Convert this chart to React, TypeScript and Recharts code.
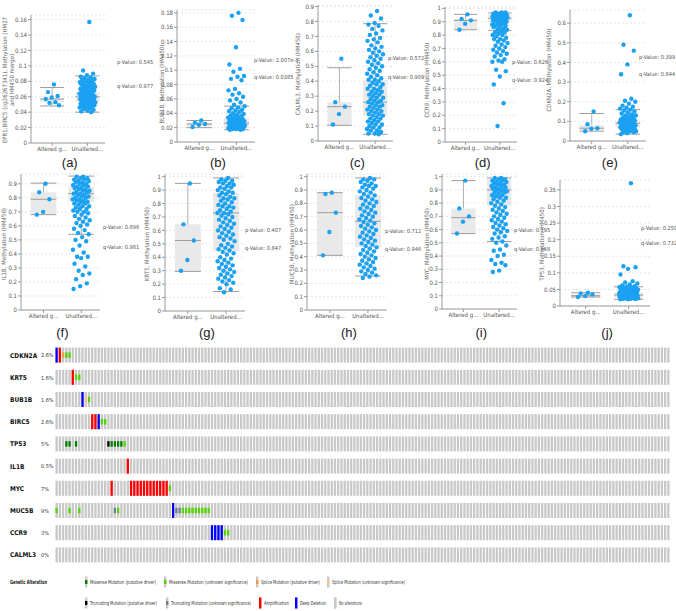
import React from "react";
import {
  ScatterChart,
  Scatter,
  XAxis,
  YAxis,
  CartesianGrid,
  ReferenceArea,
  ReferenceLine,
} from "recharts";

const FONT = '"Liberation Sans Narrow", "DejaVu Sans Condensed", "Liberation Sans", Arial, sans-serif';
const BLUE = "#1ba1f2";
const groupLabels = ["Altered g...", "Unaltered..."];

// box stats are [min, q1, median, q3, max]

// (a) EPR1;BIRC5
const aAltered = [0.076, 0.066, 0.061, 0.059, 0.057, 0.053, 0.052, 0.049];
const aUnaltered = [0.157, 0.094, 0.09, 0.088, 0.086, 0.085, 0.084, 0.083, 0.082, 0.082, 0.081, 0.08, 0.079, 0.079, 0.078, 0.077, 0.076, 0.076, 0.075, 0.074, 0.073, 0.073, 0.072, 0.071, 0.07, 0.07, 0.069, 0.068, 0.068, 0.067, 0.066, 0.066, 0.065, 0.064, 0.064, 0.063, 0.062, 0.062, 0.061, 0.061, 0.06, 0.06, 0.059, 0.059, 0.058, 0.058, 0.057, 0.057, 0.056, 0.056, 0.055, 0.055, 0.054, 0.054, 0.053, 0.053, 0.052, 0.052, 0.051, 0.051, 0.05, 0.05, 0.049, 0.048, 0.048, 0.047, 0.046, 0.046, 0.045, 0.044, 0.043, 0.042, 0.041, 0.04];
const aBoxAltered = [0.048, 0.053, 0.057, 0.058, 0.072];
const aBoxUnaltered = [0.04, 0.054, 0.06, 0.066, 0.087];
const aTicks = [0, 0.02, 0.04, 0.06, 0.08, 0.1, 0.12, 0.14, 0.16];

// (b) BUB1B
const bAltered = [0.03, 0.027, 0.025, 0.024, 0.021];
const bUnaltered = [0.18, 0.176, 0.17, 0.132, 0.108, 0.102, 0.098, 0.092, 0.091, 0.088, 0.086, 0.074, 0.072, 0.068, 0.066, 0.063, 0.06, 0.058, 0.055, 0.052, 0.05, 0.048, 0.047, 0.045, 0.044, 0.043, 0.042, 0.04, 0.039, 0.038, 0.037, 0.036, 0.035, 0.034, 0.034, 0.033, 0.032, 0.032, 0.031, 0.03, 0.03, 0.029, 0.029, 0.028, 0.028, 0.027, 0.027, 0.026, 0.026, 0.025, 0.025, 0.025, 0.024, 0.024, 0.023, 0.023, 0.023, 0.022, 0.022, 0.022, 0.021, 0.021, 0.021, 0.02, 0.02, 0.02, 0.019, 0.019, 0.019, 0.018, 0.018, 0.018, 0.017, 0.017];
const bBoxAltered = [0.02, 0.022, 0.025, 0.027, 0.03];
const bBoxUnaltered = [0.017, 0.02, 0.026, 0.033, 0.05];
const bTicks = [0, 0.02, 0.04, 0.06, 0.08, 0.1, 0.12, 0.14, 0.16, 0.18];

// (c) CALML3
const cAltered = [0.55, 0.26, 0.23, 0.18, 0.11];
const cUnaltered = [0.87, 0.84, 0.82, 0.79, 0.78, 0.77, 0.75, 0.74, 0.72, 0.71, 0.69, 0.68, 0.67, 0.66, 0.64, 0.63, 0.62, 0.61, 0.6, 0.59, 0.58, 0.57, 0.56, 0.55, 0.54, 0.53, 0.52, 0.51, 0.5, 0.49, 0.48, 0.47, 0.46, 0.45, 0.44, 0.43, 0.42, 0.41, 0.41, 0.4, 0.39, 0.38, 0.38, 0.37, 0.36, 0.35, 0.35, 0.34, 0.33, 0.33, 0.32, 0.31, 0.31, 0.3, 0.29, 0.29, 0.28, 0.27, 0.27, 0.26, 0.26, 0.25, 0.24, 0.24, 0.23, 0.23, 0.22, 0.21, 0.21, 0.2, 0.2, 0.19, 0.18, 0.18, 0.17, 0.17, 0.16, 0.15, 0.15, 0.14, 0.13, 0.13, 0.12, 0.11, 0.11, 0.1, 0.09, 0.09, 0.08, 0.07, 0.07, 0.06, 0.05, 0.05, 0.045];
const cBoxAltered = [0.105, 0.105, 0.23, 0.26, 0.49];
const cBoxUnaltered = [0.045, 0.17, 0.26, 0.41, 0.785];
const cTicks = [0, 0.1, 0.2, 0.3, 0.4, 0.5, 0.6, 0.7, 0.8, 0.9];

// (d) CCR9
const dAltered = [0.955, 0.92, 0.91, 0.885, 0.84];
const dUnaltered = [0.97, 0.97, 0.97, 0.96, 0.96, 0.96, 0.96, 0.95, 0.95, 0.95, 0.95, 0.95, 0.94, 0.94, 0.94, 0.94, 0.94, 0.93, 0.93, 0.93, 0.93, 0.92, 0.92, 0.92, 0.92, 0.91, 0.91, 0.91, 0.9, 0.9, 0.9, 0.89, 0.89, 0.88, 0.88, 0.87, 0.87, 0.86, 0.86, 0.85, 0.84, 0.84, 0.83, 0.82, 0.82, 0.81, 0.8, 0.8, 0.79, 0.78, 0.77, 0.77, 0.76, 0.75, 0.74, 0.73, 0.72, 0.71, 0.7, 0.69, 0.68, 0.67, 0.66, 0.65, 0.64, 0.62, 0.61, 0.6, 0.6, 0.54, 0.53, 0.49, 0.43, 0.29, 0.12];
const dBoxAltered = [0.84, 0.84, 0.91, 0.92, 0.955];
const dBoxUnaltered = [0.835, 0.895, 0.925, 0.955, 0.965];
const dTicks = [0, 0.1, 0.2, 0.3, 0.4, 0.5, 0.6, 0.7, 0.8, 0.9, 1];

// (e) CDKN2A
const eAltered = [0.15, 0.085, 0.065, 0.062, 0.05];
const eUnaltered = [0.64, 0.49, 0.46, 0.39, 0.34, 0.215, 0.205, 0.2, 0.19, 0.18, 0.175, 0.17, 0.165, 0.16, 0.155, 0.15, 0.145, 0.14, 0.135, 0.13, 0.13, 0.125, 0.12, 0.12, 0.115, 0.11, 0.11, 0.105, 0.105, 0.1, 0.1, 0.1, 0.095, 0.095, 0.09, 0.09, 0.09, 0.085, 0.085, 0.085, 0.08, 0.08, 0.08, 0.075, 0.075, 0.07, 0.07, 0.07, 0.065, 0.065, 0.06, 0.06, 0.055, 0.055, 0.05, 0.05, 0.045, 0.045, 0.04, 0.035];
const eBoxAltered = [0.05, 0.055, 0.065, 0.08, 0.14];
const eBoxUnaltered = [0.035, 0.07, 0.09, 0.105, 0.16];
const eTicks = [0, 0.1, 0.2, 0.3, 0.4, 0.5, 0.6];

// (f) IL1B
const fAltered = [0.9, 0.84, 0.79, 0.7, 0.68];
const fUnaltered = [0.95, 0.95, 0.94, 0.94, 0.93, 0.93, 0.92, 0.92, 0.91, 0.91, 0.9, 0.9, 0.89, 0.89, 0.88, 0.88, 0.87, 0.87, 0.86, 0.86, 0.85, 0.85, 0.84, 0.84, 0.83, 0.83, 0.82, 0.82, 0.81, 0.81, 0.8, 0.8, 0.79, 0.79, 0.78, 0.78, 0.77, 0.77, 0.76, 0.76, 0.75, 0.74, 0.74, 0.73, 0.72, 0.72, 0.71, 0.7, 0.7, 0.69, 0.68, 0.67, 0.66, 0.65, 0.64, 0.63, 0.62, 0.61, 0.6, 0.58, 0.57, 0.55, 0.54, 0.52, 0.5, 0.49, 0.46, 0.43, 0.41, 0.38, 0.38, 0.37, 0.33, 0.31, 0.28, 0.26, 0.25, 0.22, 0.19, 0.17, 0.15];
const fBoxAltered = [0.68, 0.68, 0.79, 0.84, 0.905];
const fBoxUnaltered = [0.54, 0.77, 0.83, 0.88, 0.955];
const fTicks = [0, 0.1, 0.2, 0.3, 0.4, 0.5, 0.6, 0.7, 0.8, 0.9];

// (g) KRT5
const gAltered = [0.95, 0.645, 0.525, 0.38, 0.3];
const gUnaltered = [0.99, 0.98, 0.97, 0.97, 0.96, 0.95, 0.95, 0.94, 0.93, 0.92, 0.92, 0.91, 0.9, 0.89, 0.88, 0.88, 0.87, 0.86, 0.85, 0.84, 0.84, 0.83, 0.82, 0.81, 0.8, 0.79, 0.78, 0.78, 0.77, 0.76, 0.75, 0.74, 0.73, 0.73, 0.72, 0.71, 0.7, 0.69, 0.68, 0.67, 0.66, 0.65, 0.64, 0.63, 0.62, 0.61, 0.6, 0.59, 0.58, 0.57, 0.56, 0.55, 0.54, 0.53, 0.52, 0.5, 0.49, 0.48, 0.47, 0.46, 0.45, 0.44, 0.43, 0.42, 0.4, 0.39, 0.38, 0.37, 0.36, 0.35, 0.34, 0.33, 0.32, 0.31, 0.3, 0.29, 0.28, 0.27, 0.26, 0.25, 0.24, 0.23, 0.22, 0.21, 0.2, 0.17, 0.16, 0.14];
const gBoxAltered = [0.295, 0.295, 0.525, 0.645, 0.95];
const gBoxUnaltered = [0.145, 0.445, 0.73, 0.88, 0.99];
const gTicks = [0, 0.1, 0.2, 0.3, 0.4, 0.5, 0.6, 0.7, 0.8, 0.9, 1];

// (h) MUC5B
const hAltered = [0.88, 0.87, 0.73, 0.585, 0.41];
const hUnaltered = [0.99, 0.98, 0.98, 0.97, 0.96, 0.95, 0.94, 0.93, 0.93, 0.92, 0.91, 0.9, 0.89, 0.88, 0.87, 0.86, 0.85, 0.84, 0.83, 0.82, 0.81, 0.8, 0.79, 0.78, 0.77, 0.76, 0.75, 0.74, 0.73, 0.72, 0.71, 0.7, 0.69, 0.68, 0.67, 0.66, 0.65, 0.64, 0.63, 0.62, 0.61, 0.6, 0.59, 0.58, 0.57, 0.56, 0.55, 0.54, 0.53, 0.52, 0.51, 0.5, 0.49, 0.48, 0.47, 0.46, 0.45, 0.44, 0.43, 0.42, 0.41, 0.4, 0.39, 0.38, 0.37, 0.36, 0.35, 0.34, 0.33, 0.32, 0.31, 0.3, 0.29, 0.28, 0.27, 0.26, 0.25, 0.24];
const hBoxAltered = [0.41, 0.41, 0.73, 0.88, 0.88];
const hBoxUnaltered = [0.255, 0.47, 0.665, 0.86, 0.99];
const hTicks = [0, 0.1, 0.2, 0.3, 0.4, 0.5, 0.6, 0.7, 0.8, 0.9, 1];

// (i) MYC
const iAltered = [0.97, 0.76, 0.7, 0.66, 0.57];
const iUnaltered = [0.99, 0.99, 0.98, 0.98, 0.97, 0.97, 0.96, 0.96, 0.95, 0.95, 0.94, 0.94, 0.93, 0.93, 0.92, 0.92, 0.91, 0.91, 0.9, 0.9, 0.89, 0.89, 0.88, 0.88, 0.87, 0.86, 0.86, 0.85, 0.84, 0.84, 0.83, 0.82, 0.81, 0.8, 0.79, 0.78, 0.77, 0.76, 0.75, 0.74, 0.73, 0.72, 0.71, 0.7, 0.69, 0.68, 0.67, 0.66, 0.65, 0.64, 0.63, 0.62, 0.61, 0.6, 0.59, 0.58, 0.57, 0.55, 0.54, 0.53, 0.51, 0.5, 0.48, 0.45, 0.44, 0.41, 0.4, 0.37, 0.35, 0.34, 0.33, 0.29, 0.28];
const iBoxAltered = [0.57, 0.57, 0.69, 0.76, 0.97];
const iBoxUnaltered = [0.51, 0.78, 0.9, 0.98, 0.99];
const iTicks = [0, 0.1, 0.2, 0.3, 0.4, 0.5, 0.6, 0.7, 0.8, 0.9, 1];

// (j) TP53
const jAltered = [0.04, 0.038, 0.035, 0.03, 0.027];
const jUnaltered = [0.37, 0.12, 0.117, 0.112, 0.095, 0.075, 0.071, 0.068, 0.065, 0.062, 0.06, 0.058, 0.057, 0.056, 0.055, 0.054, 0.053, 0.052, 0.051, 0.05, 0.049, 0.048, 0.047, 0.046, 0.045, 0.044, 0.043, 0.042, 0.041, 0.04, 0.04, 0.039, 0.038, 0.037, 0.036, 0.035, 0.035, 0.034, 0.033, 0.032, 0.032, 0.031, 0.03, 0.03, 0.029, 0.028, 0.028, 0.027, 0.026, 0.026, 0.025, 0.025, 0.024, 0.023, 0.023, 0.022, 0.022, 0.021, 0.02, 0.02];
const jBoxAltered = [0.027, 0.027, 0.031, 0.035, 0.04];
const jBoxUnaltered = [0.02, 0.025, 0.033, 0.04, 0.058];
const jTicks = [0, 0.05, 0.1, 0.15, 0.2, 0.25, 0.3, 0.35];

// oncoprint
const genes = ["CDKN2A", "KRT5", "BUB1B", "BIRC5", "TP53", "IL1B", "MYC", "MUC5B", "CCR9", "CALML3"];
const genePcts = ["2.6%", "1.6%", "1.6%", "2.6%", "5%", "0.5%", "7%", "9%", "3%", "0%"];
const sampleCount = 190;
const cdkn2aAlts: [number, string][] = [[0, "del"], [1, "amp"], [2, "spliceD"], [3, "misU"], [4, "misU"]];
const krt5Alts: [number, string][] = [[5, "amp"], [6, "misU"], [7, "misU"]];
const bub1bAlts: [number, string][] = [[8, "del"], [9, "spliceU"], [10, "misU"]];
const birc5Alts: [number, string][] = [[11, "amp"], [12, "amp"], [13, "del"], [14, "misU"], [15, "misU"]];
const tp53Alts: [number, string][] = [[3, "misD"], [4, "misD"], [6, "misD"], [16, "truncD"], [17, "misD"], [18, "misD"], [19, "misD"], [20, "misD"], [21, "misU"]];
const il1bAlts: [number, string][] = [[22, "amp"]];
const mycAlts: [number, string][] = [[17, "amp"], [23, "amp"], [24, "amp"], [25, "amp"], [26, "amp"], [27, "amp"], [28, "amp"], [29, "amp"], [30, "amp"], [31, "amp"], [32, "amp"], [33, "amp"], [34, "amp"], [35, "misU"]];
const muc5bAlts: [number, string][] = [[0, "misU"], [4, "misU"], [7, "misU"], [18, "truncU"], [19, "misU"], [36, "del"], [37, "truncU"], [38, "truncU"], [39, "misU"], [40, "misU"], [41, "misU"], [42, "misU"], [43, "misU"], [44, "misU"], [45, "misU"], [46, "misU"], [47, "misU"]];
const ccr9Alts: [number, string][] = [[48, "del"], [49, "del"], [50, "del"], [51, "del"], [52, "misU"], [53, "misU"]];
const calml3Alts: [number, string][] = [];
const geneAlts = [cdkn2aAlts, krt5Alts, bub1bAlts, birc5Alts, tp53Alts, il1bAlts, mycAlts, muc5bAlts, ccr9Alts, calml3Alts];

const altColors: Record<string, string> = {
  misD: "#008000",
  misU: "#53d400",
  spliceD: "#f09a3e",
  spliceU: "#f5c08a",
  truncD: "#000000",
  truncU: "#708090",
  amp: "#ff0000",
  del: "#0000ff",
  none: "#c8c8c8",
};

type PanelDef = {
  tag: string; yLabel: string[]; p: string; q: string;
  altered: number[]; unaltered: number[]; boxA: number[]; boxU: number[];
  ticks: number[]; yMax: number;
  left: number; top: number; axisX: number; plotRight: number; plotTop: number; plotBottom: number;
  pX: number; pY: number; qY: number; tagY: number; yLabelX: number[]; yLabelY: number;
};

const panels: PanelDef[] = [
  { tag: "(a)", yLabel: ["EPR1;BIRC5 (cg26267341), Methylation (HM27", "and HM450 merge)"], p: "p-Value: 0.545", q: "q-Value: 0.977", altered: aAltered, unaltered: aUnaltered, boxA: aBoxAltered, boxU: aBoxUnaltered, ticks: aTicks, yMax: 0.166, left: 0, top: 0, axisX: 31, plotRight: 105, plotTop: 15, plotBottom: 143, pX: 117, pY: 62, qY: 86, tagY: 163, yLabelX: [5, 12], yLabelY: 80 },
  { tag: "(b)", yLabel: ["BUB1B, Methylation (HM450)"], p: "p-Value: 2.007e-3", q: "q-Value: 0.0385", altered: bAltered, unaltered: bUnaltered, boxA: bBoxAltered, boxU: bBoxUnaltered, ticks: bTicks, yMax: 0.184, left: 135, top: 0, axisX: 177, plotRight: 255, plotTop: 10, plotBottom: 142, pX: 254, pY: 60, qY: 77, tagY: 163, yLabelX: [162], yLabelY: 84 },
  { tag: "(c)", yLabel: ["CALML3, Methylation (HM450)"], p: "p-Value: 0.572", q: "q-Value: 0.909", altered: cAltered, unaltered: cUnaltered, boxA: cBoxAltered, boxU: cBoxUnaltered, ticks: cTicks, yMax: 0.91, left: 270, top: 0, axisX: 318, plotRight: 393, plotTop: 5, plotBottom: 141, pX: 388, pY: 58, qY: 77, tagY: 163, yLabelX: [298], yLabelY: 74 },
  { tag: "(d)", yLabel: ["CCR9, Methylation (HM450)"], p: "p-Value: 0.626", q: "q-Value: 0.924", altered: dAltered, unaltered: dUnaltered, boxA: dBoxAltered, boxU: dBoxUnaltered, ticks: dTicks, yMax: 1.01, left: 405, top: 0, axisX: 445, plotRight: 517, plotTop: 7, plotBottom: 142, pX: 512, pY: 62, qY: 80, tagY: 163, yLabelX: [427], yLabelY: 80 },
  { tag: "(e)", yLabel: ["CDKN2A, Methylation (HM450)"], p: "p-Value: 0.399", q: "q-Value: 0.844", altered: eAltered, unaltered: eUnaltered, boxA: eBoxAltered, boxU: eBoxUnaltered, ticks: eTicks, yMax: 0.667, left: 540, top: 0, axisX: 570, plotRight: 646, plotTop: 10, plotBottom: 141, pX: 639, pY: 57, qY: 74, tagY: 163, yLabelX: [549], yLabelY: 70 },
  { tag: "(f)", yLabel: ["IL1B, Methylation (HM450)"], p: "p-Value: 0.896", q: "q-Value: 0.981", altered: fAltered, unaltered: fUnaltered, boxA: fBoxAltered, boxU: fBoxUnaltered, ticks: fTicks, yMax: 0.97, left: 0, top: 165, axisX: 21, plotRight: 100, plotTop: 174, plotBottom: 310, pX: 103, pY: 227, qY: 247, tagY: 333, yLabelX: [4], yLabelY: 244 },
  { tag: "(g)", yLabel: ["KRT5, Methylation (HM450)"], p: "p-Value: 0.407", q: "q-Value: 0.847", altered: gAltered, unaltered: gUnaltered, boxA: gBoxAltered, boxU: gBoxUnaltered, ticks: gTicks, yMax: 1.02, left: 135, top: 165, axisX: 165, plotRight: 245, plotTop: 174, plotBottom: 311, pX: 245, pY: 230, qY: 248, tagY: 333, yLabelX: [147], yLabelY: 244 },
  { tag: "(h)", yLabel: ["MUC5B, Methylation (HM450)"], p: "p-Value: 0.712", q: "q-Value: 0.946", altered: hAltered, unaltered: hUnaltered, boxA: hBoxAltered, boxU: hBoxUnaltered, ticks: hTicks, yMax: 1.02, left: 270, top: 165, axisX: 307, plotRight: 387, plotTop: 174, plotBottom: 310, pX: 385, pY: 231, qY: 249, tagY: 333, yLabelX: [292], yLabelY: 244 },
  { tag: "(i)", yLabel: ["MYC, Methylation (HM450)"], p: "p-Value: 0.195", q: "q-Value: 0.668", altered: iAltered, unaltered: iUnaltered, boxA: iBoxAltered, boxU: iBoxUnaltered, ticks: iTicks, yMax: 1.02, left: 405, top: 165, axisX: 442, plotRight: 517, plotTop: 174, plotBottom: 309, pX: 514, pY: 230, qY: 249, tagY: 333, yLabelX: [427], yLabelY: 244 },
  { tag: "(j)", yLabel: ["TP53, Methylation (HM450)"], p: "p-Value: 0.250", q: "q-Value: 0.732", altered: jAltered, unaltered: jUnaltered, boxA: jBoxAltered, boxU: jBoxUnaltered, ticks: jTicks, yMax: 0.38, left: 540, top: 165, axisX: 560, plotRight: 650, plotTop: 180, plotBottom: 306, pX: 641, pY: 228, qY: 243, tagY: 333, yLabelX: [542], yLabelY: 244 },
];

const jitter = (i: number) => ((i * 0.618034) % 1) - 0.5;
const fmt = (v: number) => String(Number(v.toFixed(3)));
const BOX_FILL = "#e9e9e9";
const BOX_LINE = "#9d9d9d";

function boxParts(stats: number[], g: number, key: string) {
  const [mn, q1, med, q3, mx] = stats;
  const hw = 0.34;
  return [
    <ReferenceArea key={key + "box"} x1={g - hw} x2={g + hw} y1={q1} y2={q3} fill={BOX_FILL} fillOpacity={1} stroke="none" />,
    <ReferenceLine key={key + "up"} segment={[{ x: g, y: q3 }, { x: g, y: mx }]} stroke={BOX_LINE} strokeWidth={0.8} />,
    <ReferenceLine key={key + "lo"} segment={[{ x: g, y: mn }, { x: g, y: q1 }]} stroke={BOX_LINE} strokeWidth={0.8} />,
    <ReferenceLine key={key + "med"} segment={[{ x: g - hw, y: med }, { x: g + hw, y: med }]} stroke={BOX_LINE} strokeWidth={1} />,
    <ReferenceLine key={key + "max"} segment={[{ x: g - hw, y: mx }, { x: g + hw, y: mx }]} stroke={BOX_LINE} strokeWidth={1} />,
    <ReferenceLine key={key + "min"} segment={[{ x: g - hw, y: mn }, { x: g + hw, y: mn }]} stroke={BOX_LINE} strokeWidth={1} />,
  ];
}

const dot = (props: any) => <circle cx={props.cx} cy={props.cy} r={2.2} fill={BLUE} />;

function BoxPanel({ d }: { d: PanelDef }) {
  const width = d.plotRight - d.left + 2;
  const height = d.plotBottom - d.top + 16;
  const pts0 = d.altered.map((y, i) => ({ x: 0.44 * jitter(i + 1), y }));
  const pts1 = d.unaltered.map((y, i) => ({ x: 1 + 0.46 * jitter(i + 1), y }));
  const W = d.plotRight - d.axisX;
  const tagX = d.axisX + (W * 1.1) / 2.1;
  const small = { fontSize: 6, fill: "#555", fontFamily: FONT };
  const pqStyle: React.CSSProperties = {
    position: "absolute",
    left: d.pX,
    fontSize: 5.6,
    lineHeight: "8px",
    color: "#555",
    whiteSpace: "nowrap",
    fontFamily: FONT,
  };
  return (
    <>
      <div style={{ position: "absolute", left: d.left, top: d.top }}>
        <ScatterChart
          width={width}
          height={height}
          margin={{ top: d.plotTop - d.top, right: 2, bottom: 4, left: 0 }}
        >
          <CartesianGrid vertical={false} stroke="#e6e6e6" strokeDasharray="2 2" />
          <XAxis
            type="number"
            dataKey="x"
            domain={[-0.6, 1.5]}
            ticks={[0, 1]}
            interval={0}
            tickFormatter={(v: number) => groupLabels[v]}
            tick={small}
            tickSize={3}
            tickMargin={1}
            stroke="#9a9a9a"
            height={12}
            allowDataOverflow
          />
          <YAxis
            type="number"
            dataKey="y"
            domain={[0, d.yMax]}
            ticks={d.ticks}
            interval={0}
            tickFormatter={fmt}
            tick={small}
            tickSize={3}
            tickMargin={1}
            stroke="#9a9a9a"
            width={d.axisX - d.left}
            allowDataOverflow
          />
          {boxParts(d.boxA, 0, "a")}
          {boxParts(d.boxU, 1, "u")}
          <Scatter data={pts0} fill={BLUE} shape={dot} isAnimationActive={false} />
          <Scatter data={pts1} fill={BLUE} shape={dot} isAnimationActive={false} />
        </ScatterChart>
      </div>
      {d.yLabel.map((t, k) => (
        <div
          key={t}
          style={{
            position: "absolute",
            left: d.yLabelX[k] - 100,
            top: d.yLabelY - 4,
            width: 200,
            height: 8,
            lineHeight: "8px",
            textAlign: "center",
            transform: "rotate(-90deg)",
            fontSize: 6,
            color: "#666",
            whiteSpace: "nowrap",
            fontFamily: FONT,
          }}
        >
          {t}
        </div>
      ))}
      <div style={{ ...pqStyle, top: d.pY - 4 }}>{d.p}</div>
      <div style={{ ...pqStyle, top: d.qY - 4 }}>{d.q}</div>
      <div
        style={{
          position: "absolute",
          left: tagX - 20,
          top: d.tagY - 8,
          width: 40,
          textAlign: "center",
          fontSize: 13,
          lineHeight: "16px",
          color: "#222",
          fontFamily: '"Liberation Sans", Arial, sans-serif',
        }}
      >
        {d.tag}
      </div>
    </>
  );
}

const cellBg = (props: any) => (
  <rect x={props.cx - 1.15} y={props.cy - 7.5} width={2.3} height={15} fill={altColors.none} />
);

const cellAlt = (props: any) => {
  const t = props.payload.t;
  const full = t === "amp" || t === "del";
  const h = full ? 15 : 5.5;
  return <rect x={props.cx - 1.15} y={props.cy - h / 2} width={2.3} height={h} fill={altColors[t]} />;
};

const geneTick = (props: any) => {
  const v = props.payload.value;
  return (
    <g>
      <text x={10} y={props.y} dy={2.5} fontSize={6.5} fontWeight="bold" fill="#111" fontFamily={FONT}>
        {genes[v]}
      </text>
      <text x={41} y={props.y} dy={2.2} fontSize={5.5} fill="#333" fontFamily={FONT}>
        {genePcts[v]}
      </text>
    </g>
  );
};

const legendRow1 = [
  { x: 85, w: 66, label: "Missense Mutation (putative driver)", t: "misD" },
  { x: 164, w: 79, label: "Missense Mutation (unknown significance)", t: "misU" },
  { x: 256, w: 59, label: "Splice Mutation (putative driver)", t: "spliceD" },
  { x: 327, w: 73, label: "Splice Mutation (unknown significance)", t: "spliceU" },
];
const legendRow2 = [
  { x: 85, w: 67, label: "Truncating Mutation (putative driver)", t: "truncD" },
  { x: 166, w: 80, label: "Truncating Mutation (unknown significance)", t: "truncU" },
  { x: 259, w: 25, label: "Amplification", t: "amp" },
  { x: 295, w: 26, label: "Deep Deletion", t: "del" },
  { x: 334, w: 23, label: "No alterations", t: "none" },
];

const LEGEND_SX = 0.72;

function LegendItem({ x, y, w, label, t }: { x: number; y: number; w: number; label: string; t: string }) {
  const full = t === "amp" || t === "del" || t === "none";
  const h = full ? 11 : 4;
  return (
    <g>
      <rect x={x} y={y - 5.5} width={2.4} height={11} fill={altColors.none} />
      <rect x={x} y={y - h / 2} width={2.4} height={h} fill={altColors[t]} />
      <g transform={`translate(${x + 5},${y + 2}) scale(${LEGEND_SX},1)`}>
        <text
          x={0}
          y={0}
          fontSize={5.4}
          fill="#333"
          fontFamily={FONT}
          textLength={w / LEGEND_SX}
          lengthAdjust="spacingAndGlyphs"
        >
          {label}
        </text>
      </g>
    </g>
  );
}

export default function App() {
  const bgCells = genes.flatMap((g, r) =>
    Array.from({ length: sampleCount }, (_, c) => ({ c, r }))
  );
  const altCells = geneAlts.flatMap((alts, r) => alts.map(([c, t]) => ({ c, r, t })));

  return (
    <div style={{ position: "absolute", left: 0, top: 0, width: 676, height: 611, background: "#fff", overflow: "hidden" }}>
      {panels.map((p) => (
        <BoxPanel key={p.tag} d={p} />
      ))}
      <div style={{ position: "absolute", left: 0, top: 340 }}>
        <ScatterChart width={676} height={228} margin={{ top: 4, right: 6, bottom: 2, left: 0 }}>
          <XAxis type="number" dataKey="c" domain={[-0.5, sampleCount - 0.5]} hide />
          <YAxis
            type="number"
            dataKey="r"
            domain={[-0.5, genes.length - 0.5]}
            ticks={genes.map((_, i) => i)}
            interval={0}
            reversed
            width={55}
            axisLine={false}
            tickLine={false}
            tick={geneTick}
          />
          <Scatter data={bgCells} shape={cellBg} isAnimationActive={false} />
          <Scatter data={altCells} shape={cellAlt} isAnimationActive={false} />
        </ScatterChart>
      </div>
      <svg style={{ position: "absolute", left: 0, top: 570 }} width={676} height={41}>
        <g transform={`translate(10,14) scale(${LEGEND_SX},1)`}>
          <text x={0} y={0} fontSize={5.8} fontWeight="bold" fill="#222" fontFamily={FONT} textLength={37 / LEGEND_SX} lengthAdjust="spacingAndGlyphs">
            Genetic Alteration
          </text>
        </g>
        {legendRow1.map((l) => (
          <LegendItem key={l.label} x={l.x} y={12} w={l.w} label={l.label} t={l.t} />
        ))}
        {legendRow2.map((l) => (
          <LegendItem key={l.label} x={l.x} y={33} w={l.w} label={l.label} t={l.t} />
        ))}
      </svg>
    </div>
  );
}
